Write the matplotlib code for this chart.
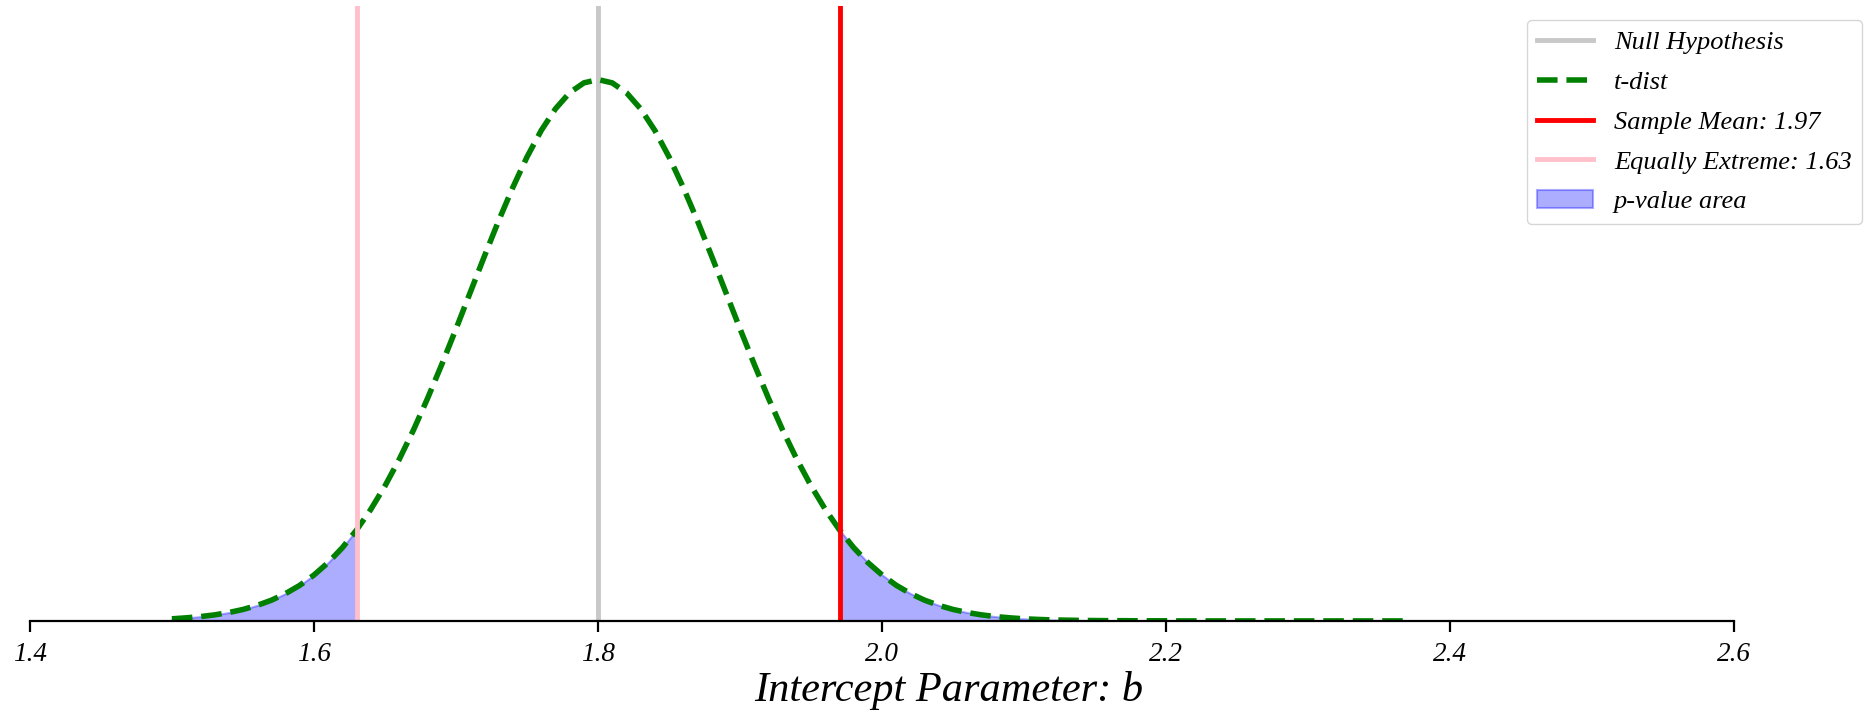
import numpy as np
import matplotlib
matplotlib.use("Agg")
import matplotlib.pyplot as plt

# sample grid along the intercept axis
x = np.linspace(1.50, 2.37, 88)
# t-dist density (peak ~4.4 at 1.80)
density = [
    0.017, 0.025, 0.035, 0.049, 0.068, 0.093, 0.126, 0.168, 0.222, 0.289,
    0.373, 0.474, 0.595, 0.739, 0.906, 1.097, 1.312, 1.550, 1.809, 2.085,
    2.373, 2.669, 2.964, 3.252, 3.523, 3.771, 3.986, 4.162, 4.293, 4.373,
    4.400,
    4.373, 4.293, 4.162, 3.986, 3.771, 3.523, 3.252, 2.964, 2.669, 2.373,
    2.085, 1.809, 1.550, 1.312, 1.097, 0.906, 0.739, 0.595, 0.474, 0.373,
    0.289, 0.222, 0.168, 0.126, 0.093, 0.068, 0.049, 0.035, 0.025, 0.017,
    0.012, 0.008, 0.006, 0.004, 0.003, 0.002, 0.002, 0.001, 0.001, 0.001,
    0.000, 0.000, 0.000, 0.000, 0.000, 0.000, 0.000, 0.000, 0.000, 0.000,
    0.000, 0.000, 0.000, 0.000, 0.000, 0.000, 0.000,
]
y = np.array(density)

null_value = 1.80
sample_mean = 1.97
equally_extreme = 1.63
xticks = [1.4, 1.6, 1.8, 2.0, 2.2, 2.4, 2.6]

plt.rcParams['font.family'] = ['Liberation Serif', 'DejaVu Serif']
plt.rcParams['font.style'] = 'italic'

fig = plt.figure(figsize=(18.65, 7.17), dpi=100)
ax = fig.add_axes([0.016, 0.134, 0.914, 0.858])

ax.axvline(null_value, color='#c8c8c8', linewidth=3.5, label='Null Hypothesis')
ax.plot(x, y, '--', color='green', linewidth=4, label='t-dist')
ax.axvline(sample_mean, color='red', linewidth=3.5, label='Sample Mean: %.2f' % sample_mean)
ax.axvline(equally_extreme, color='pink', linewidth=3.5,
           label='Equally Extreme: %.2f' % equally_extreme)
ax.fill_between(x, y, 0, where=(x <= equally_extreme + 1e-9), color='blue',
                alpha=0.32, linewidth=1.5, label='p-value area')
ax.fill_between(x, y, 0, where=(x >= sample_mean - 1e-9), color='blue',
                alpha=0.32, linewidth=1.5)

ax.set_xlim(1.4, 2.6)
ax.set_ylim(0, 5.0)
ax.set_xticks(xticks)
ax.set_xticklabels(['%.1f' % t for t in xticks], fontsize=19.5)
ax.set_yticks([])
for s in ['top', 'right', 'left']:
    ax.spines[s].set_visible(False)
ax.spines['bottom'].set_linewidth(1.6)
ax.tick_params(axis='x', length=8, width=1.6, pad=7)
ax.set_xlabel('Intercept Parameter: b', fontsize=30.5)
ax.xaxis.set_label_coords(0.539, -0.082)

ax.legend(loc='upper right', bbox_to_anchor=(0.9985, 0.972),
          bbox_transform=fig.transFigure, borderaxespad=0,
          fontsize=19, handlelength=2.1, labelspacing=0.62)

plt.savefig('out.png', dpi=100)
